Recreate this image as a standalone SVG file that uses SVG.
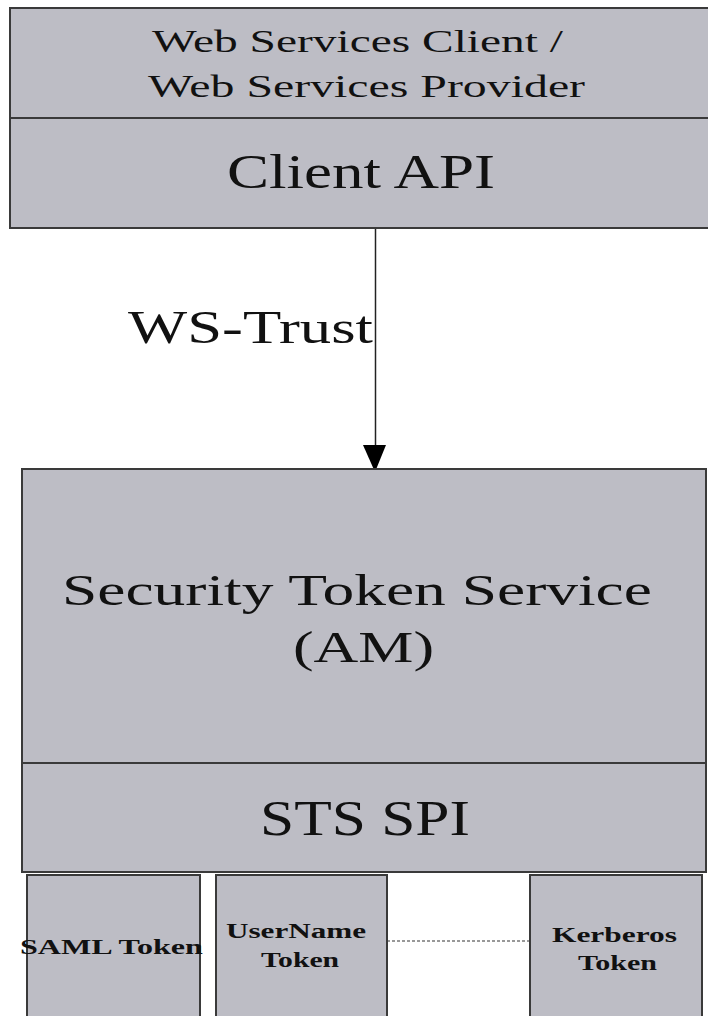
<svg xmlns="http://www.w3.org/2000/svg" width="708" height="1016" viewBox="0 0 708 1016">
<style>
.box{fill:#bdbdc5;stroke:#3a3a3a;stroke-width:2}
.t{font-family:"Liberation Serif","Times New Roman",serif;fill:#111}
.b{font-family:"Liberation Serif","Times New Roman",serif;font-weight:bold;fill:#111}
.conn{stroke:#222;stroke-width:1.5;fill:none}
</style>
<rect width="708" height="1016" fill="#ffffff"/>
<g id="connectors">
<line class="conn" x1="375.5" y1="228" x2="375.5" y2="450"/>
<polygon points="363,445 386,445 375,472" fill="#000"/>
<line x1="387" y1="941" x2="530" y2="941" stroke="#333" stroke-width="1.2" stroke-dasharray="3,2"/>
</g>
<g id="ws-client">
<rect class="box" x="10" y="8" width="710" height="110"/>
<text class="t" transform="translate(152,52) scale(1.47,1)" font-size="32" textLength="279.6" lengthAdjust="spacingAndGlyphs">Web Services Client /</text>
<text class="t" transform="translate(148,97) scale(1.48,1)" font-size="32" textLength="295.3" lengthAdjust="spacingAndGlyphs">Web Services Provider</text>
</g>
<g id="client-api">
<rect class="box" x="10" y="118" width="710" height="110"/>
<text class="t" transform="translate(227,188) scale(1.27,1)" font-size="49" textLength="211" lengthAdjust="spacingAndGlyphs">Client API</text>
</g>
<g id="ws-trust-label">
<text class="t" transform="translate(128,343) scale(1.35,1)" font-size="46" textLength="181.5" lengthAdjust="spacingAndGlyphs">WS-Trust</text>
</g>
<g id="sts">
<rect class="box" x="22" y="469" width="684" height="294"/>
<text class="t" transform="translate(62,605) scale(1.4,1)" font-size="45" textLength="421.4" lengthAdjust="spacingAndGlyphs">Security Token Service</text>
<text class="t" transform="translate(293,662) scale(1.38,1)" font-size="45" textLength="102.2" lengthAdjust="spacingAndGlyphs">(AM)</text>
</g>
<g id="sts-spi">
<rect class="box" x="22" y="763" width="684" height="109"/>
<text class="t" transform="translate(260,835) scale(1.2,1)" font-size="51" textLength="175" lengthAdjust="spacingAndGlyphs">STS SPI</text>
</g>
<g id="saml-token">
<rect class="box" x="27" y="875" width="173" height="150"/>
<text class="b" transform="translate(20,954) scale(1.49,1)" font-size="21" textLength="122.8" lengthAdjust="spacingAndGlyphs">SAML Token</text>
</g>
<g id="username-token">
<rect class="box" x="216" y="875" width="171" height="150"/>
<text class="b" transform="translate(226,938) scale(1.49,1)" font-size="21" textLength="94" lengthAdjust="spacingAndGlyphs">UserName</text>
<text class="b" transform="translate(261,967) scale(1.37,1)" font-size="21" textLength="57" lengthAdjust="spacingAndGlyphs">Token</text>
</g>
<g id="kerberos-token">
<rect class="box" x="530" y="875" width="172" height="150"/>
<text class="b" transform="translate(552,942) scale(1.49,1)" font-size="21" textLength="83.9" lengthAdjust="spacingAndGlyphs">Kerberos</text>
<text class="b" transform="translate(578,970) scale(1.39,1)" font-size="21" textLength="56.8" lengthAdjust="spacingAndGlyphs">Token</text>
</g>
</svg>
